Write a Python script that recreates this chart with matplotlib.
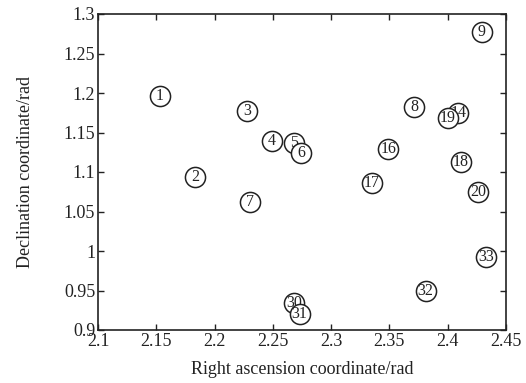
import matplotlib
matplotlib.use("Agg")
import matplotlib.pyplot as plt

ids = ["1", "2", "3", "4", "5", "6", "7", "8", "9", "14", "19", "16", "17", "18", "20", "33", "32", "30", "31"]
ra = [2.153, 2.183, 2.228, 2.249, 2.268, 2.274, 2.230, 2.371, 2.429, 2.409, 2.400, 2.349, 2.335, 2.411, 2.426, 2.433, 2.381, 2.268, 2.273]
dec = [1.196, 1.094, 1.177, 1.139, 1.137, 1.124, 1.062, 1.182, 1.277, 1.175, 1.168, 1.129, 1.086, 1.113, 1.075, 0.992, 0.949, 0.934, 0.920]

xticks = [2.1, 2.15, 2.2, 2.25, 2.3, 2.35, 2.4, 2.45]
xticklabels = ["2.1", "2.15", "2.2", "2.25", "2.3", "2.35", "2.4", "2.45"]
yticks = [0.9, 0.95, 1.0, 1.05, 1.1, 1.15, 1.2, 1.25, 1.3]
yticklabels = ["0.9", "0.95", "1", "1.05", "1.1", "1.15", "1.2", "1.25", "1.3"]

plt.rcParams['font.family'] = ['Liberation Serif', 'DejaVu Serif']

fig = plt.figure(figsize=(5.26, 3.83), dpi=100)
ax = fig.add_axes([98/526, 1 - 330/383, (506-98)/526, (330-14)/383])

for i, (x, y, t) in enumerate(zip(ra, dec, ids)):
    ax.scatter([x], [y], s=210, facecolors='white', edgecolors='#222222', linewidths=1.1, zorder=3 + 2*i)
    ax.text(x, y, t, ha='center', va='center', fontsize=11.5, color='#222222', zorder=4 + 2*i)

ax.set_xlim(2.1, 2.45)
ax.set_ylim(0.9, 1.3)
ax.set_xticks(xticks)
ax.set_xticklabels(xticklabels)
ax.set_yticks(yticks)
ax.set_yticklabels(yticklabels)
ax.tick_params(direction='in', top=True, right=True, length=4, width=1, labelsize=13, colors='#222222', pad=2)
for s in ax.spines.values():
    s.set_linewidth(1.2)
    s.set_color('#222222')
ax.set_xlabel("Right ascension coordinate/rad", fontsize=13, color='#222222', labelpad=8)
ax.set_ylabel("Declination coordinate/rad", fontsize=13, color='#222222', labelpad=21)

fig.savefig("out.png", dpi=100)
